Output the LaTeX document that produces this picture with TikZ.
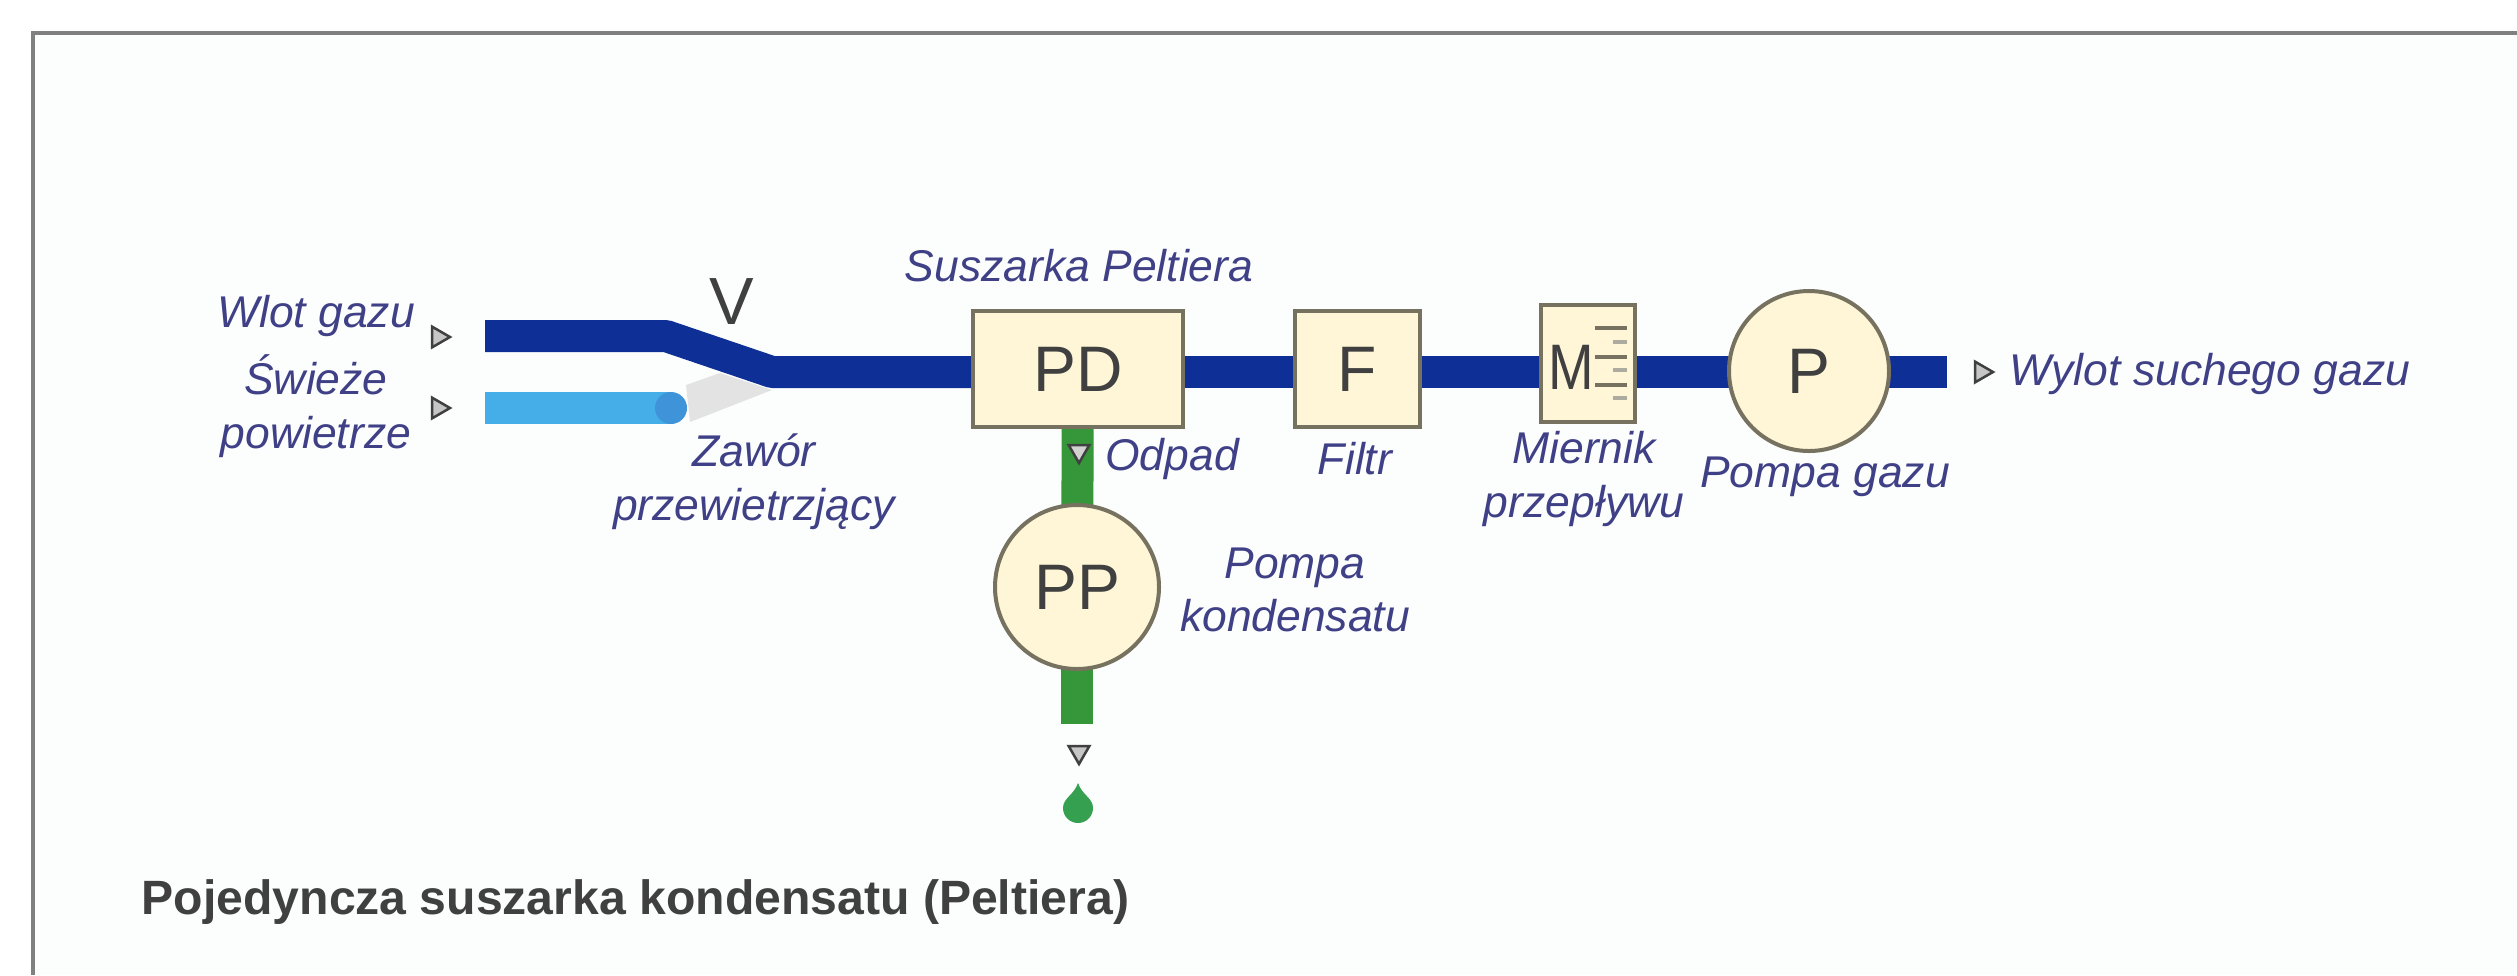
\documentclass[tikz,border=0pt]{standalone}
\usepackage{fontspec}
\setmainfont{Liberation Sans}
\usetikzlibrary{backgrounds,shapes.geometric}
\definecolor{framegray}{HTML}{808080}
\definecolor{panelbg}{HTML}{FCFEFE}
\definecolor{gasblue}{HTML}{0E2F96}
\definecolor{airblue}{HTML}{45AEE8}
\definecolor{airend}{HTML}{3F93D8}
\definecolor{wedgegray}{HTML}{E3E3E3}
\definecolor{wastegreen}{HTML}{36963A}
\definecolor{dropgreen}{HTML}{34A050}
\definecolor{unitfill}{HTML}{FFF6D8}
\definecolor{unitline}{HTML}{77725F}
\definecolor{labelblue}{HTML}{3F4086}
\definecolor{unittext}{HTML}{404040}
\begin{document}
\begin{tikzpicture}
[
    gaspipe/.style={draw=gasblue,line width=.32cm,line join=round},
    airpipe/.style={draw=airblue,line width=.32cm},
    wastepipe/.style={draw=wastegreen,line width=.32cm},
    unitbox/.style={draw=unitline,fill=unitfill,line width=.04cm,text=unittext,inner sep=0pt,outer sep=0pt,font=\fontsize{18.3}{22}\selectfont},
    pumpdisc/.style={unitbox,circle},
    plabel/.style={text=labelblue,align=center,inner sep=0pt,font=\fontsize{12.65}{15.3}\selectfont\itshape},
    flowmark/.style={regular polygon,regular polygon sides=3,draw=unittext,fill=#1,line width=.025cm,minimum size=.24cm,inner sep=0pt},
    tick/.style={draw=unitline,line width=.04cm},
]
\useasboundingbox (0,0) rectangle (25.17,-9.75);

\node[unitbox,minimum width=2.1cm,minimum height=1.16cm] (pd) at (10.78,-3.69) {PD};
\node[unitbox,minimum width=1.25cm,minimum height=1.16cm] (filtr) at (13.575,-3.69) {F};
\node[unitbox,minimum width=.94cm,minimum height=1.17cm] (meter) at (15.88,-3.635) {};
\node[text=unittext,inner sep=0pt,xscale=.85,transform shape,font=\fontsize{18.3}{22}\selectfont] (meterm) at (15.71,-3.67) {M};
\node[pumpdisc,minimum size=1.6cm] (gaspump) at (18.09,-3.71) {P};
\node[pumpdisc,minimum size=1.64cm] (condpump) at (10.77,-5.87) {PP};
\node[text=unittext,inner sep=0pt,font=\fontsize{19}{23}\selectfont] (valve) at (7.32,-3.02) {V};

\coordinate (wlotin) at (4.85,-3.36);
\coordinate (bendA) at (6.66,-3.36);
\coordinate (bendB) at (7.72,-3.72);
\coordinate (wylot) at (19.47,-3.72);
\coordinate (airin) at (4.85,-4.08);
\coordinate (airout) at (6.71,-4.08);
\coordinate (wasteout) at (10.77,-7.24);

\node[flowmark=gray!45,shape border rotate=-90] (markgas) at (4.38,-3.37) {};
\node[flowmark=gray!45,shape border rotate=-90] (markair) at (4.38,-4.08) {};
\node[flowmark=gray!45,shape border rotate=-90] (markdry) at (19.81,-3.72) {};
\node[flowmark=gray!35,shape border rotate=180] (markwaste) at (10.79,-4.51) {};
\node[flowmark=gray!45,shape border rotate=180] (markout) at (10.79,-7.52) {};

\node[plabel] (wlotl) at (3.16,-3.16) {Wlot gazu};
\node[plabel] (swiezel) at (3.16,-4.06) {Świeże\\powietrze};
\node[plabel] (zaworl) at (7.54,-4.82) {Zawór\\przewietrzjący};
\node[plabel] (suszl) at (10.79,-2.66) {Suszarka Peltiera};
\node[plabel] (odpadl) at (11.72,-4.59) {Odpad};
\node[plabel] (filtrl) at (13.55,-4.59) {Filtr};
\node[plabel] (meterl) at (15.84,-4.79) {Miernik\\przepływu};
\node[plabel] (gasl) at (18.25,-4.77) {Pompa gazu};
\node[plabel] (condl) at (12.95,-5.9) {Pompa\\kondensatu};
\node[plabel,anchor=west] (wylotl) at (20.09,-3.74) {Wylot suchego gazu};
\node[text=unittext,anchor=west,inner sep=0pt,font=\fontsize{13.7}{16}\selectfont\bfseries] (title) at (1.41,-9.02) {Pojedyncza suszarka kondensatu (Peltiera)};

\foreach \y in {-3.28,-3.57,-3.85} {
    \draw[tick] (16.27,\y) -- (15.95,\y);
}
\foreach \y in {-3.42,-3.7,-3.98} {
    \draw[tick,draw=unitline!60] (16.27,\y) -- (16.13,\y);
}

\begin{scope}[on background layer]
\fill[panelbg] (.33,-.33) rectangle (25.17,-9.75);
\draw[framegray,line width=.04cm] (.33,-9.75) -- (.33,-.33) -- (25.17,-.33);
\fill[wedgegray] (6.86,-3.85) -- (7.2,-3.73) -- (7.72,-3.9) -- (6.9,-4.22) -- cycle;
\draw[airpipe] (airin) -- (airout);
\fill[airend] (airout) circle (.16);
\draw[gaspipe] (wlotin) -- (bendA) -- (bendB) -- (bendB -| pd.west);
\draw[gaspipe] (bendB -| pd.east) -- (bendB -| filtr.west);
\draw[gaspipe] (bendB -| filtr.east) -- (bendB -| meter.west);
\draw[gaspipe] (bendB -| meter.east) -- (bendB -| gaspump.west);
\draw[gaspipe] (bendB -| gaspump.east) -- (wylot);
\draw[wastepipe] (pd) -- (condpump);
\draw[wastepipe] (condpump) -- (wasteout);
\end{scope}

\fill[dropgreen] (10.78,-7.83) .. controls (10.82,-7.95) and (10.93,-7.98) .. (10.93,-8.08) arc (0:-180:.15) .. controls (10.63,-7.98) and (10.74,-7.95) .. (10.78,-7.83);
\end{tikzpicture}
\end{document}
